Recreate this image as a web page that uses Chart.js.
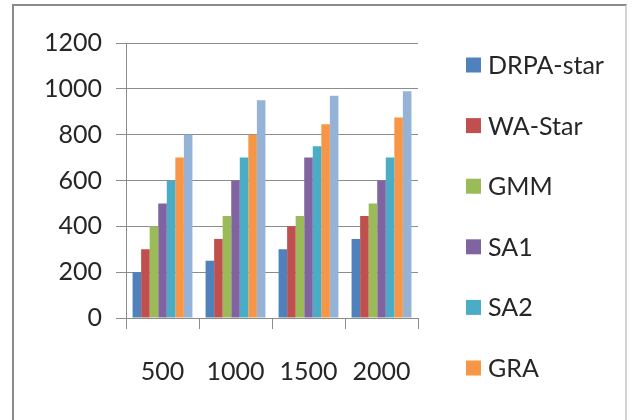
<!DOCTYPE html>
<html>
<head>
<meta charset="utf-8">
<script src="https://cdn.jsdelivr.net/npm/chart.js@4.4.0/dist/chart.umd.min.js"></script>
<style>
html, body { margin: 0; padding: 0; background: #fff; overflow: hidden; }
#frame { position: absolute; left: 12px; top: 4px; width: 611px; height: 440px;
  border-left: 2px solid #8a8a8a; border-top: 2px solid #8a8a8a; border-right: 2px solid #d4d4d4; }
#wrap { position: absolute; left: 0; top: 0; width: 635px; height: 420px; }
</style>
</head>
<body>
<div id="frame"></div>
<div id="wrap"><canvas id="Chart1"></canvas></div>
<script>
// data
const categories = ['500', '1000', '1500', '2000'];
const seriesNames = ['DRPA-star', 'WA-Star', 'GMM', 'SA1', 'SA2', 'GRA', 'Series7'];
const drpaStar = [200, 250, 300, 345];
const waStar = [300, 345, 400, 445];
const gmm = [400, 445, 445, 500];
const sa1 = [500, 600, 700, 600];
const sa2 = [600, 700, 750, 700];
const gra = [700, 800, 845, 875];
const series7 = [800, 950, 970, 990];
const yMin = 0, yMax = 1200, yStep = 200;

const colors = ['#4F81BD', '#C0504D', '#9BBB59', '#8064A2', '#4BACC6', '#F79646', '#95B3D7'];
const allValues = [drpaStar, waStar, gmm, sa1, sa2, gra, series7];
// the 7th legend entry is cut off at the bottom of the original
const legendCount = 6;

const textColor = '#262626';
const lineColor = '#8c8c8c';
const fontFamily = 'Lato, "Open Sans", sans-serif';
const fontSize = 25;

// legend drawn on the right, the way the original lays it out
const sideLegend = {
	id: 'sideLegend',
	afterDraw(chart) {
		const ctx = chart.ctx;
		ctx.save();
		ctx.font = fontSize + 'px ' + fontFamily;
		ctx.textBaseline = 'middle';
		chart.data.datasets.forEach((ds, i) => {
			if (i >= legendCount) return;
			const y = 65 + i * 60.6;
			ctx.fillStyle = ds.backgroundColor;
			ctx.fillRect(466, y - 7.5, 15, 15);
			ctx.fillStyle = textColor;
			ctx.fillText(ds.label, 488, y + 1);
		});
		ctx.restore();
	}
};

const ctx = document.getElementById('Chart1');
const myChart = new Chart(ctx, {
	type: 'bar',
	data: {
		labels: categories,
		datasets: seriesNames.map((name, i) => ({
			label: name,
			data: allValues[i],
			backgroundColor: colors[i],
			borderWidth: 0,
			categoryPercentage: 0.82,
			barPercentage: 1.0
		}))
	},
	options: {
		responsive: true,
		maintainAspectRatio: false,
		animation: false,
		layout: { padding: { left: 30, right: 217, top: 43, bottom: 5 } },
		plugins: {
			legend: { display: false },
			tooltip: { enabled: false }
		},
		scales: {
			x: {
				grid: { offset: true, drawOnChartArea: false, drawTicks: true, tickLength: 11, color: lineColor },
				border: { color: lineColor },
				ticks: { color: textColor, padding: 28, font: { family: fontFamily, size: fontSize } }
			},
			y: {
				min: yMin,
				max: yMax,
				ticks: {
					stepSize: yStep, color: textColor, padding: 14,
					font: { family: fontFamily, size: fontSize },
					callback: v => String(v)
				},
				grid: { color: lineColor, drawTicks: true, tickLength: 10 },
				border: { color: lineColor }
			}
		}
	},
	plugins: [sideLegend]
});
</script>
</body>
</html>
